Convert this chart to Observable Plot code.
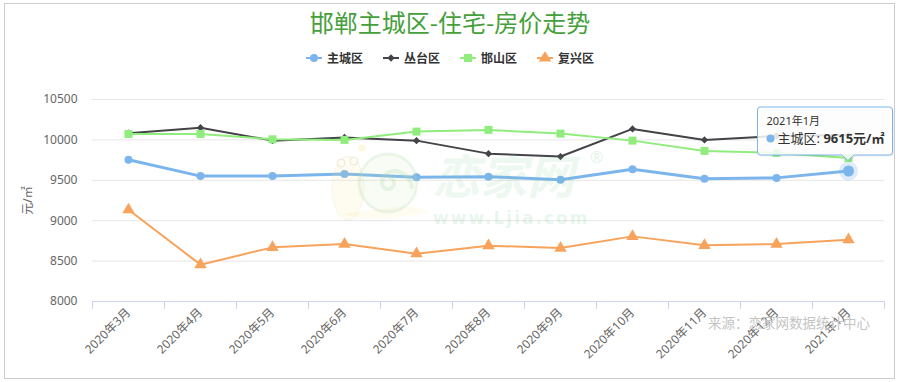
<!DOCTYPE html>
<html><head><meta charset="utf-8">
<script src="https://cdn.jsdelivr.net/npm/d3@7"></script>
<script src="https://cdn.jsdelivr.net/npm/@observablehq/plot@0.6"></script>
<style>
body{margin:0;background:#fff;font-family:"Noto Sans","Noto Sans CJK SC",sans-serif;}
#wrap{position:relative;width:900px;height:382px;overflow:hidden;background:#fff;}
#title{position:absolute;left:0;top:6px;width:900px;text-align:center;font-size:24px;line-height:32px;color:#45a03b;font-family:"Noto Sans CJK SC",sans-serif;}
#legend{position:absolute;left:0;top:49px;width:900px;display:flex;justify-content:center;font-size:12px;font-weight:bold;color:#333;font-family:"Noto Sans CJK SC",sans-serif;line-height:18px;}
.item{display:flex;align-items:center;margin:0 10px;}
.item svg{margin-right:5px;}
#chart{position:absolute;left:0;top:75px;}
#overlay{position:absolute;left:0;top:0;pointer-events:none;}
</style></head>
<body>
<div id="wrap">
  <div id="title"></div>
  <div id="legend"></div>
  <div id="chart"></div>
  <svg id="overlay" width="900" height="382"></svg>
</div>
<script>
// ---- data ----
const months = ["2020年3月","2020年4月","2020年5月","2020年6月","2020年7月","2020年8月","2020年9月","2020年10月","2020年11月","2020年12月","2021年1月"];
const zhucheng = [9755, 9552, 9552, 9578, 9537, 9545, 9508, 9636, 9518, 9530, 9615];
const congtai  = [10082, 10150, 9991, 10030, 9991, 9830, 9794, 10136, 10000, 10049, 10060];
const hanshan  = [10074, 10074, 10007, 10000, 10103, 10124, 10078, 9991, 9864, 9839, 9775];
const fuxing   = [9135, 8456, 8670, 8711, 8592, 8691, 8661, 8806, 8695, 8711, 8765];
const seriesNames = ["主城区", "丛台区", "邯山区", "复兴区"];
const yTicks = [8000, 8500, 9000, 9500, 10000, 10500];
const titleText = "邯郸主城区-住宅-房价走势";
const yLabel = "元/㎡";
const unitText = "元/㎡";
const sourceText = "来源：恋家网数据统计中心";
const watermarkName = "恋家网";
const watermarkUrl = "www.Ljia.com";

// ---- styles ----
const seriesColors = ["#7cb5ec", "#434348", "#90ed7d", "#f7a35c"];
const seriesSymbols = ["circle", "diamond2", "square", "triangle"];
const d3Symbols = [d3.symbolCircle, d3.symbolDiamond2, d3.symbolSquare, d3.symbolTriangle];
const seriesR = [4, 3.3, 4.5, 4.6];
const seriesWidths = [3, 2, 2, 2];

const values = [zhucheng, congtai, hanshan, fuxing];
const series = seriesNames.map((name, i) => ({
  name, color: seriesColors[i], symbol: seriesSymbols[i], r: seriesR[i], sw: seriesWidths[i],
  data: months.map((m, j) => ({month: m, value: values[i][j], name}))
}));

document.getElementById("title").textContent = titleText;

// legend
const legend = d3.select("#legend");
series.forEach((s, i) => {
  const it = legend.append("div").attr("class", "item");
  const sv = it.append("svg").attr("width", 16).attr("height", 12);
  sv.append("line").attr("x1", 0).attr("x2", 16).attr("y1", 6).attr("y2", 6).attr("stroke", s.color).attr("stroke-width", 2);
  sv.append("path").attr("transform", "translate(8,6)").attr("d", d3.symbol(d3Symbols[i], s.r * s.r * Math.PI)()).attr("fill", s.color);
  it.append("span").text(s.name);
});

// chart
const W = 900, H = 307, mL = 92, mR = 16, mT = 24, mB = 81;
const step = (W - mL - mR) / months.length;
const yMin = yTicks[0];
const last = series[0].data[series[0].data.length - 1];

const marks = [
  Plot.ruleY(yTicks.filter(t => t > yMin), {stroke: "#e6e6e6"}),
  Plot.ruleY([yMin], {stroke: "#ccd6eb"}),
  Plot.ruleX(months, {x: d => d, y1: () => yMin, y2: () => yMin, insetBottom: -8, dx: -step / 2, stroke: "#ccd6eb"}),
  Plot.ruleX(months.slice(-1), {x: d => d, y1: () => yMin, y2: () => yMin, insetBottom: -8, dx: step / 2, stroke: "#ccd6eb"}),
  Plot.text([yLabel], {text: d => d, frameAnchor: "left", textAnchor: "middle", dx: -64, rotate: -90, fill: "#666", fontSize: 12})
];
series.forEach(s => {
  marks.push(Plot.line(s.data, {x: "month", y: "value", stroke: s.color, strokeWidth: s.sw}));
  marks.push(Plot.dot(s.data, {x: "month", y: "value", symbol: s.symbol, r: s.r, fill: s.color, stroke: "none"}));
});
marks.push(Plot.dot([last], {x: "month", y: "value", r: 9.5, fill: seriesColors[0], fillOpacity: 0.25, stroke: "none"}));
marks.push(Plot.dot([last], {x: "month", y: "value", r: 5.5, fill: seriesColors[0], stroke: "none"}));

const plot = Plot.plot({
  width: W, height: H,
  marginLeft: mL, marginRight: mR, marginTop: mT, marginBottom: mB,
  style: {fontFamily: '"Noto Sans","Noto Sans CJK SC",sans-serif', fontSize: "12px", color: "#666", background: "transparent", overflow: "visible"},
  x: {type: "point", domain: months, padding: 0.5, align: 0.5, tickRotate: -45, tickSize: 0, tickPadding: 9, label: null},
  y: {domain: [yMin, yTicks[yTicks.length - 1]], ticks: yTicks, tickSize: 0, tickPadding: 15, label: null, tickFormat: d => String(d)},
  marks
});
document.getElementById("chart").appendChild(plot);

// overlay: frame, watermark, source, tooltip
const ov = d3.select("#overlay");
ov.append("rect").attr("x", 4.5).attr("y", 3.5).attr("width", 890).attr("height", 375).attr("fill", "none").attr("stroke", "#cccccc");

// watermark (snail + text)
const wm = ov.append("g");
wm.append("ellipse").attr("cx", 348).attr("cy", 188).attr("rx", 16).attr("ry", 32).attr("fill", "rgba(245,225,130,0.12)").attr("stroke", "rgba(215,215,170,0.2)");
wm.append("path").attr("d", "M340,214 Q380,224 428,212 Q420,205 395,207 Z").attr("fill", "rgba(245,225,130,0.12)");
wm.append("circle").attr("cx", 341).attr("cy", 163).attr("r", 4).attr("fill", "none").attr("stroke", "rgba(190,190,150,0.3)");
wm.append("circle").attr("cx", 354).attr("cy", 161).attr("r", 4).attr("fill", "none").attr("stroke", "rgba(190,190,150,0.3)");
wm.append("circle").attr("cx", 362).attr("cy", 148).attr("r", 3.5).attr("fill", "rgba(245,225,130,0.25)");
wm.append("circle").attr("cx", 388).attr("cy", 183).attr("r", 29).attr("fill", "rgba(200,230,170,0.12)").attr("stroke", "rgba(170,215,170,0.2)").attr("stroke-width", 3);
wm.append("path").attr("d", "M388,183 m0,-6 a6,6 0 1,1 -6,6 a12,12 0 0,1 12,-12 a18,18 0 0,1 18,18")
  .attr("fill", "none").attr("stroke", "rgba(170,215,170,0.25)").attr("stroke-width", 4);
wm.append("text").attr("x", 433).attr("y", 194).attr("font-size", 47).attr("font-weight", "bold").attr("font-style", "italic")
  .attr("font-family", '"Noto Sans CJK SC",sans-serif').attr("fill", "rgba(110,200,140,0.15)").text(watermarkName);
wm.append("text").attr("x", 590).attr("y", 163).attr("font-size", 16).attr("fill", "rgba(110,200,140,0.22)").text("®");
wm.append("text").attr("x", 433).attr("y", 224).attr("font-size", 17).attr("font-weight", "bold").attr("letter-spacing", 2)
  .attr("font-family", '"DejaVu Sans",sans-serif').attr("fill", "rgba(110,200,140,0.17)").text(watermarkUrl);

// source
ov.append("text").attr("x", 708).attr("y", 328).attr("font-size", 13.5).attr("fill", "#c4c4c4")
  .attr("font-family", '"Noto Sans CJK SC",sans-serif').text(sourceText);

// tooltip
let px = 848, py = 170;
try {
  px = plot.scale("x").apply(last.month);
  py = plot.scale("y").apply(last.value) + 75;
} catch (e) {}
const bx = px - 90.5, by = py - 63.5, bw = 135, bh = 48;
const tip = ov.append("g");
const r = 3;
const pathD = `M${bx + r},${by} H${bx + bw - r} Q${bx + bw},${by} ${bx + bw},${by + r} V${by + bh - r} Q${bx + bw},${by + bh} ${bx + bw - r},${by + bh} H${px + 6} L${px},${py - 10} L${px - 6},${by + bh} H${bx + r} Q${bx},${by + bh} ${bx},${by + bh - r} V${by + r} Q${bx},${by} ${bx + r},${by} Z`;
tip.append("path").attr("d", pathD).attr("fill", "rgba(0,0,0,0.06)").attr("transform", "translate(1.5,1.5)");
tip.append("path").attr("d", pathD).attr("fill", "rgba(255,255,255,0.85)").attr("stroke", seriesColors[0]).attr("stroke-width", 1);
tip.append("text").attr("x", bx + 9).attr("y", by + 18).attr("font-size", 11).attr("fill", "#333")
  .attr("font-family", '"Noto Sans","Noto Sans CJK SC",sans-serif').text(last.month);
tip.append("circle").attr("cx", bx + 13).attr("cy", by + 31.5).attr("r", 4).attr("fill", seriesColors[0]);
const t2 = tip.append("text").attr("x", bx + 20).attr("y", by + 36).attr("font-size", 13).attr("fill", "#333")
  .attr("font-family", '"Noto Sans","Noto Sans CJK SC",sans-serif');
t2.append("tspan").text(last.name + ": ");
t2.append("tspan").attr("font-weight", "bold").text(last.value + unitText);
</script>
</body></html>
